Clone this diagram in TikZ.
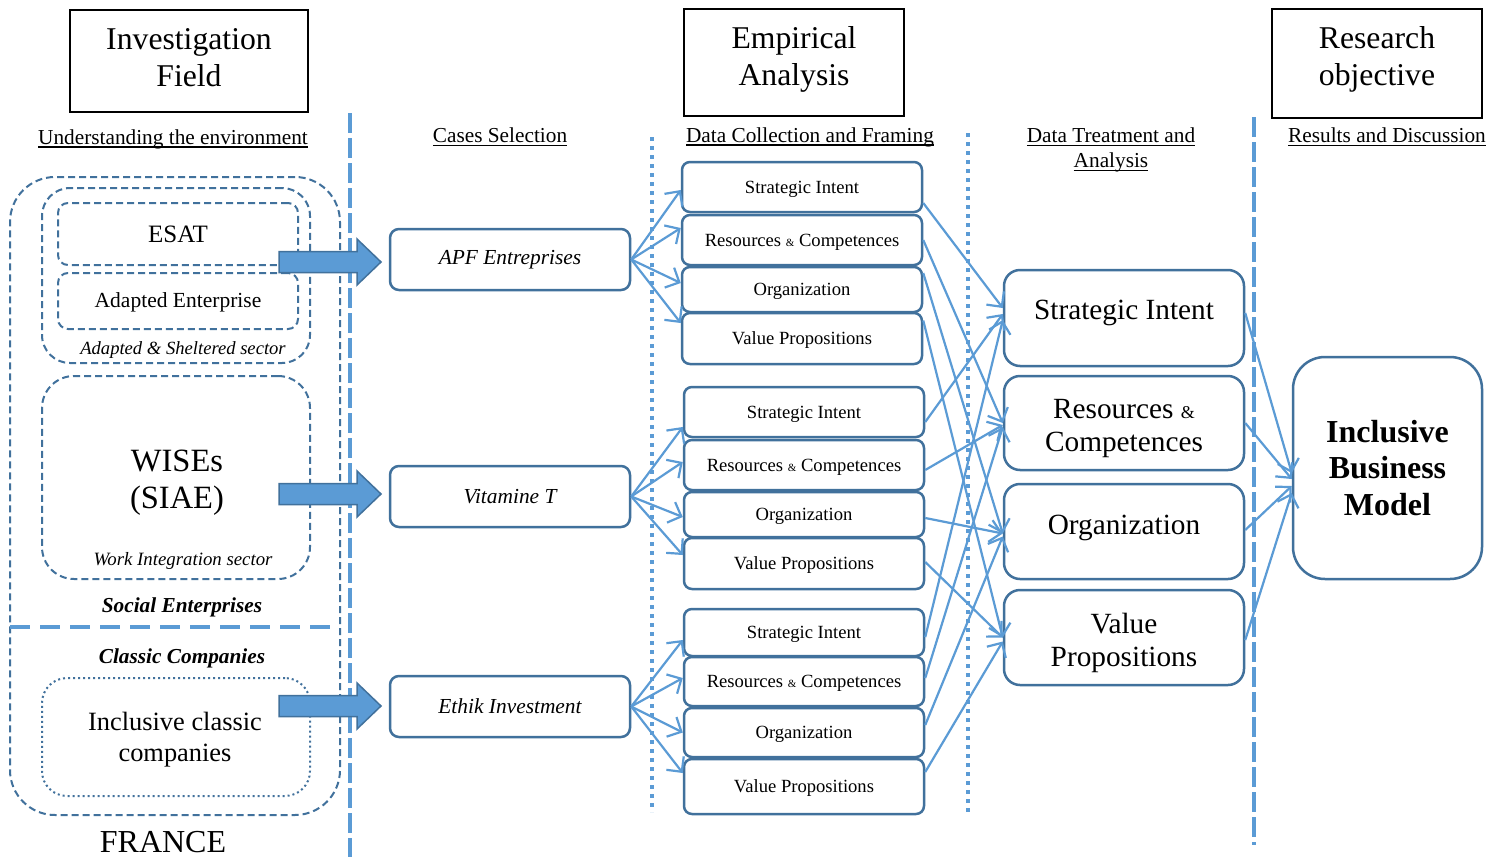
\documentclass[tikz,border=0pt]{standalone}
\usepackage{fontspec}
\setmainfont{Liberation Serif}
\usetikzlibrary{arrows.meta,calc}
\definecolor{lb}{HTML}{5B9BD5}
\definecolor{db}{HTML}{41719C}
\newcommand{\myul}[1]{\setbox0\hbox{#1}\rlap{\rule[-3.5pt]{\wd0}{1.2pt}}\box0}
\newcommand{\samp}{{\fontsize{11}{11}\selectfont\&}}
\newcommand{\bamp}{{\fontsize{18}{18}\selectfont\&}}
\begin{document}
\begin{tikzpicture}[x=1pt,y=-1pt,
  hdr/.style={draw=black, line width=2pt, inner sep=0pt},
  hdrtxt/.style={align=center, font=\fontsize{31.7}{37}\selectfont, inner sep=0pt},
  sub/.style={font=\fontsize{21.3}{25}\selectfont, align=center, inner sep=0pt},
  smallbox/.style={draw=db, line width=2.5pt, rounded corners=8pt, minimum width=240pt, font=\fontsize{18.6}{21}\selectfont, inner sep=0pt, text height=13pt, text depth=1pt},
  bigbox/.style={draw=db, line width=2.5pt, rounded corners=16pt, minimum width=240pt, inner sep=0pt},
  bigtxt/.style={align=center, font=\fontsize{29.3}{33}\selectfont, inner sep=0pt},
  casebox/.style={draw=db, line width=2.5pt, rounded corners=9pt, minimum width=240pt, minimum height=61pt, font=\fontsize{21.4}{24}\selectfont\itshape, inner sep=0pt},
  conn/.style={draw=lb, line width=2.2pt, -{Straight Barb[length=11pt,width=22pt]}},
  dbox/.style={draw=db, line width=2pt, dash pattern=on 7pt off 4pt, inner sep=0pt},
  vsepdash/.style={draw=lb, line width=4.5pt, dash pattern=on 20pt off 5pt},
  vsepdot/.style={draw=lb, line width=4pt, dash pattern=on 4pt off 5pt},
  blockarrow/.style={fill=lb, draw=db, line width=1.5pt, line join=miter},
  lab/.style={inner sep=0pt, align=center}
]
\useasboundingbox (0,0) rectangle (1500,857);
\fill[white] (0,0) rectangle (1500,857);

% headers
\node[hdr, minimum width=238pt, minimum height=102pt] (inv) at (189,61) {};
\node[hdrtxt] (invt) at (189,58) {Investigation\\Field};
\node[hdr, minimum width=220pt, minimum height=107pt] (emp) at (794,62.5) {};
\node[hdrtxt] (empt) at (794,59.5) {Empirical\\Analysis};
\node[hdr, minimum width=210pt, minimum height=109pt] (res) at (1377,63.5) {};
\node[hdrtxt] (rest) at (1377,59) {Research\\objective};

\node[sub] (s1) at (173,139) {\myul{Understanding the environment}};
\node[sub] (s2) at (500,137) {\myul{Cases Selection}};
\node[sub] (s3) at (810,137) {\myul{Data Collection and Framing}};
\node[sub, font=\fontsize{21.3}{25.5}\selectfont] (s4) at (1111,150) {\myul{Data Treatment and}\\\myul{Analysis}};
\node[sub] (s5) at (1387,137) {\myul{Results and Discussion}};

% separators
\coordinate (v1a) at (350,113); \coordinate (v1b) at (350,857);
\coordinate (v2a) at (652,137); \coordinate (v2b) at (652,812);
\coordinate (v3a) at (968,133); \coordinate (v3b) at (968,812);
\coordinate (v4a) at (1254,117); \coordinate (v4b) at (1254,845);
\draw[vsepdash] (v1a) -- (v1b);
\draw[vsepdot] (v2a) -- (v2b);
\draw[vsepdot] (v3a) -- (v3b);
\draw[vsepdash] (v4a) -- (v4b);

% left side
\node[dbox, rounded corners=45pt, minimum width=330pt, minimum height=638pt] (fr) at (175,496) {};
\node[dbox, rounded corners=28pt, minimum width=268pt, minimum height=175pt] (as) at (176,275.5) {};
\node[dbox, rounded corners=10pt, minimum width=240pt, minimum height=62pt, font=\fontsize{25}{28}\selectfont] (esat) at (178,234) {ESAT};
\node[dbox, rounded corners=10pt, minimum width=240pt, minimum height=56pt] (ae) at (178,301) {};
\node[lab, font=\fontsize{21.5}{24}\selectfont] (aet) at (178,302) {Adapted Enterprise};
\node[lab, font=\fontsize{18.6}{20}\selectfont\itshape] (asl) at (183,350) {Adapted \& Sheltered sector};
\node[dbox, rounded corners=32pt, minimum width=268pt, minimum height=203pt] (wise) at (176,477.5) {};
\node[lab, font=\fontsize{32.5}{37}\selectfont] (wiset) at (177,482.5) {WISEs\\(SIAE)};
\node[lab, font=\fontsize{18.8}{20}\selectfont\itshape] (wisl) at (183,561) {Work Integration sector};
\node[lab, font=\fontsize{21.3}{24}\selectfont\bfseries\itshape] (se) at (182,607) {Social Enterprises};
\coordinate (h1) at (10,627); \coordinate (h2) at (340,627);
\draw[draw=lb, line width=4pt, dash pattern=on 20pt off 10pt] (h1) -- (h2);
\node[lab, font=\fontsize{21.3}{24}\selectfont\bfseries\itshape] (cc) at (182,658) {Classic Companies};
\node[draw=db, line width=2pt, dash pattern=on 2pt off 3pt, rounded corners=25pt, minimum width=268pt, minimum height=118pt, inner sep=0pt] (icc) at (176,737) {};
\node[lab, font=\fontsize{26.4}{31}\selectfont] (icct) at (175,740) {Inclusive classic\\companies};
\node[lab, font=\fontsize{32}{37}\selectfont] (fra) at (163,842) {FRANCE};

% block arrows
\foreach \yc in {262,494,706}{
  \draw[blockarrow] (279,\yc-10.5) -- (357,\yc-10.5) -- (357,\yc-23) -- (381,\yc) -- (357,\yc+23) -- (357,\yc+10.5) -- (279,\yc+10.5) -- cycle;
}

% cases
\node[casebox] (apf) at (510,259.5) {APF Entreprises};
\node[casebox] (vit) at (510,496.5) {Vitamine T};
\node[casebox] (eth) at (510,706.5) {Ethik Investment};

% small boxes group 1
\node[smallbox, minimum height=50pt] (si1) at (802,187) {Strategic Intent};
\node[smallbox, minimum height=50pt] (rc1) at (802,240) {Resources \samp{} Competences};
\node[smallbox, minimum height=45pt] (o1) at (802,289.5) {Organization};
\node[smallbox, minimum height=51pt] (vp1) at (802,338.5) {Value Propositions};
% group 2
\node[smallbox, minimum height=50pt] (si2) at (804,412) {Strategic Intent};
\node[smallbox, minimum height=50pt] (rc2) at (804,465) {Resources \samp{} Competences};
\node[smallbox, minimum height=45pt] (o2) at (804,514.5) {Organization};
\node[smallbox, minimum height=51pt] (vp2) at (804,563.5) {Value Propositions};
% group 3
\node[smallbox, minimum height=47pt] (si3) at (804,632.5) {Strategic Intent};
\node[smallbox, minimum height=49pt] (rc3) at (804,681.5) {Resources \samp{} Competences};
\node[smallbox, minimum height=49pt] (o3) at (804,732.5) {Organization};
\node[smallbox, minimum height=55pt] (vp3) at (804,786.5) {Value Propositions};

% big boxes
\node[bigbox, minimum height=96pt] (bsi) at (1124,318) {};
\node[bigtxt] (bsit) at (1124,313) {Strategic Intent};
\node[bigbox, minimum height=94pt] (brc) at (1124,423) {};
\node[bigtxt] (brct) at (1124,429) {Resources \bamp\\Competences};
\node[bigbox, minimum height=95pt] (bo) at (1124,531.5) {};
\node[bigtxt] (bot) at (1124,527.5) {Organization};
\node[bigbox, minimum height=95pt] (bvp) at (1124,637.5) {};
\node[bigtxt] (bvpt) at (1124,642.5) {Value\\Propositions};

% result
\node[draw=db, line width=2.5pt, rounded corners=32pt, minimum width=189pt, minimum height=222pt, align=center, inner sep=0pt, font=\fontsize{32}{36.5}\selectfont\bfseries] (ibm) at (1387.5,468) {Inclusive\\Business\\Model};

% connectors: cases -> small boxes
\draw[conn] (apf.east) -- ($(si1.west)+(0,3)$);
\draw[conn] (apf.east) -- ($(rc1.west)+(0,-12)$);
\draw[conn] (apf.east) -- ($(o1.west)+(0,-6.5)$);
\draw[conn] (apf.east) -- ($(vp1.west)+(0,-15.5)$);
\draw[conn] (vit.east) -- ($(si2.west)+(0,15)$);
\draw[conn] (vit.east) -- ($(rc2.west)+(0,-3)$);
\draw[conn] (vit.east) -- ($(o2.west)+(0,2.5)$);
\draw[conn] (vit.east) -- ($(vp2.west)+(0,-8.5)$);
\draw[conn] (eth.east) -- ($(si3.west)+(0,7.5)$);
\draw[conn] (eth.east) -- ($(rc3.west)+(0,-3.5)$);
\draw[conn] (eth.east) -- ($(o3.west)+(0,0)$);
\draw[conn] (eth.east) -- ($(vp3.west)+(0,-13.5)$);

% small -> big
\draw[conn] ($(si1.east)+(0,16)$) -- ($(bsi.west)+(0,-10)$);
\draw[conn] ($(rc1.east)+(0,0)$) -- ($(brc.west)+(0,0)$);
\draw[conn] ($(o1.east)+(0,-16.5)$) -- ($(bo.west)+(0,2)$);
\draw[conn] ($(vp1.east)+(0,-18)$) -- ($(bvp.west)+(0,0)$);
\draw[conn] ($(si2.east)+(0,10)$) -- ($(bsi.west)+(0,-4)$);
\draw[conn] ($(rc2.east)+(0,5)$) -- ($(brc.west)+(0,2)$);
\draw[conn] ($(o2.east)+(0,3.5)$) -- ($(bo.west)+(0,2)$);
\draw[conn] ($(vp2.east)+(0,-1.5)$) -- ($(bvp.west)+(0,0)$);
\draw[conn] ($(si3.east)+(0,4.5)$) -- ($(bsi.west)+(0,2)$);
\draw[conn] ($(rc3.east)+(0,-3.5)$) -- ($(brc.west)+(0,4)$);
\draw[conn] ($(o3.east)+(0,-7.5)$) -- ($(bo.west)+(0,5)$);
\draw[conn] ($(vp3.east)+(0,-14.5)$) -- ($(bvp.west)+(0,4)$);

% big -> result
\draw[conn] ($(bsi.east)+(0,-5)$) -- ($(ibm.west)+(0,5)$);
\draw[conn] ($(brc.east)+(0,0)$) -- ($(ibm.west)+(0,11)$);
\draw[conn] ($(bo.east)+(0,-1.5)$) -- ($(ibm.west)+(0,18)$);
\draw[conn] ($(bvp.east)+(0,2.5)$) -- ($(ibm.west)+(0,25)$);
\end{tikzpicture}
\end{document}
